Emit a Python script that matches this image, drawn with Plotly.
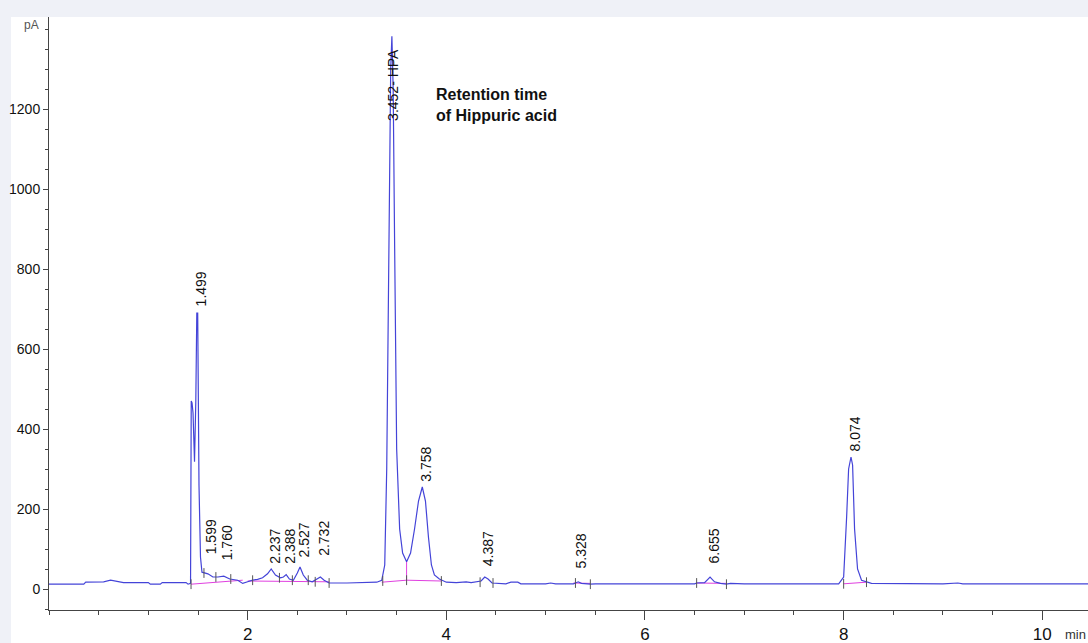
import plotly.graph_objects as go

# ---- data (time in min, signal in pA) ----
time_min = [0.00, 0.35, 0.37, 0.55, 0.62, 0.68, 0.75, 1.00, 1.02, 1.12, 1.14, 1.38, 1.40, 1.425,
            1.432, 1.44, 1.45, 1.465, 1.478, 1.488, 1.497, 1.51, 1.525, 1.54, 1.56, 1.60, 1.65,
            1.70, 1.76, 1.82, 1.90, 1.95, 2.00, 2.05, 2.10, 2.15, 2.20, 2.237, 2.28, 2.33, 2.36,
            2.388, 2.42, 2.46, 2.50, 2.527, 2.56, 2.60, 2.65, 2.70, 2.732, 2.77, 2.82, 3.00, 3.20,
            3.30, 3.35, 3.38, 3.40, 3.42, 3.44, 3.452, 3.465, 3.48, 3.50, 3.53, 3.56, 3.60, 3.64,
            3.68, 3.72, 3.758, 3.79, 3.82, 3.85, 3.88, 3.93, 4.00, 4.10, 4.20, 4.25, 4.35, 4.387,
            4.42, 4.46, 4.60, 4.65, 4.72, 4.75, 5.00, 5.05, 5.10, 5.28, 5.30, 5.328, 5.36, 5.45,
            5.50, 6.50, 6.52, 6.60, 6.655, 6.70, 6.76, 6.82, 6.86, 7.00, 7.95, 8.00, 8.03, 8.05,
            8.074, 8.09, 8.11, 8.14, 8.18, 8.23, 8.28, 9.00, 9.15, 9.20, 10.50]
signal_pa = [12, 12, 17, 18, 22, 20, 16, 16, 12, 12, 16, 16, 12, 14,
             470, 465, 440, 318, 470, 690, 690, 260, 80, 42, 40, 38, 30,
             30, 32, 25, 22, 14, 18, 22, 24, 28, 38, 50, 35, 28, 30,
             36, 25, 22, 40, 55, 35, 22, 18, 25, 30, 22, 15, 15, 16,
             17, 22, 60, 300, 900, 1300, 1382, 1250, 850, 350, 150, 90, 68, 90,
             150, 220, 255, 220, 130, 60, 35, 25, 17, 16, 18, 16, 20, 30,
             25, 15, 13, 17, 17, 13, 13, 15, 13, 13, 15, 18, 14, 12,
             13, 13, 15, 16, 30, 18, 14, 12, 14, 13, 13, 30, 180, 300,
             330, 310, 150, 50, 22, 18, 14, 13, 15, 13, 13]

# integration baselines (magenta), segments separated by None
base_t = [1.43, 1.95, None, 2.00, 2.82, None, 3.35, 3.60, 3.95, None, 3.60, 3.60, None,
          5.28, 5.45, None, 6.52, 6.82, None, 8.00, 8.23]
base_v = [12, 22, None, 20, 18, None, 17, 22, 20, None, 68, 22, None,
          15, 14, None, 15, 14, None, 13, 17]

# peak start/stop marks
mark_t = [1.43, 1.56, 1.68, 1.83, 2.05, 2.32, 2.45, 2.61, 2.68, 2.82, 3.36, 3.60, 3.95,
          4.34, 4.47, 5.30, 5.45, 6.52, 6.82, 8.00, 8.23]
mark_v = [12, 40, 30, 25, 22, 28, 22, 22, 18, 15, 20, 22, 20, 17, 15, 15, 12, 15, 12, 13, 17]

# peak labels
peak_labels = ["1.499", "1.599", "1.760", "2.237", "2.388", "2.527", "2.732",
               "3.758", "4.387", "5.328", "6.655", "8.074"]
peak_times = [1.499, 1.599, 1.760, 2.237, 2.388, 2.527, 2.732, 3.758, 4.387, 5.328, 6.655, 8.074]
peak_heights = [695, 75, 60, 50, 50, 65, 70, 255, 45, 38, 50, 330]
hpa_label = "3.452- HPA"
hpa_time = 3.452
hpa_label_base = 1165

x_ticks = [2, 4, 6, 8, 10]
y_ticks = [0, 200, 400, 600, 800, 1000, 1200]

FONT = "Liberation Sans, Arial, sans-serif"
AXC = "#444444"
PAGE_BG = "#eff1f7"

fig = go.Figure()
fig.add_trace(go.Scatter(x=base_t, y=base_v, mode="lines",
                         line=dict(color="#e040e0", width=1), hoverinfo="skip"))
fig.add_trace(go.Scatter(x=time_min, y=signal_pa, mode="lines",
                         line=dict(color="#4444d8", width=1.2)))
fig.add_trace(go.Scatter(x=mark_t, y=mark_v, mode="markers",
                         marker=dict(symbol="line-ns", size=7,
                                     line=dict(color="#555555", width=1))))

for lab, t, h in zip(peak_labels, peak_times, peak_heights):
    fig.add_annotation(x=t, y=h, text=lab, textangle=-90, showarrow=False,
                       xanchor="center", yanchor="bottom", xshift=3, yshift=3,
                       font=dict(family=FONT, size=14, color="#111111"))
fig.add_annotation(x=hpa_time, y=hpa_label_base, text=hpa_label, textangle=-90,
                   showarrow=False, xanchor="center", yanchor="bottom", xshift=1,
                   font=dict(family=FONT, size=14, color="#111111"))
fig.add_annotation(x=3.877, y=1210, xref="x", yref="y", text="<b>Retention time<br>of Hippuric acid</b>",
                   showarrow=False, xanchor="left", yanchor="middle", align="left",
                   font=dict(family=FONT, size=16, color="#111111"))
fig.add_annotation(x=-27 / 1039, y=1 - 8 / 593, xref="paper", yref="paper", text="pA",
                   showarrow=False, xanchor="left", yanchor="middle",
                   font=dict(family=FONT, size=12, color="#555555"))
fig.add_annotation(x=10.21, y=0, xref="x", yref="paper", text="min", showarrow=False,
                   xanchor="left", yanchor="middle", yshift=-24,
                   font=dict(family=FONT, size=13, color="#333333"))

# white canvas over grey page border
fig.add_shape(type="rect", xref="paper", yref="paper", layer="below",
              x0=-38 / 1039, x1=1.02, y0=-0.1, y1=1.0, fillcolor="white", line_width=0)

fig.update_layout(
    width=1088, height=643,
    margin=dict(l=49, r=0, t=17, b=33, autoexpand=False),
    paper_bgcolor=PAGE_BG, plot_bgcolor="rgba(0,0,0,0)",
    showlegend=False,
    font=dict(family=FONT),
)
fig.update_xaxes(range=[0, 10.46], tickmode="array", tickvals=x_ticks, automargin=False,
                 ticks="outside", ticklen=9, tickcolor=AXC, showline=True, linecolor=AXC,
                 linewidth=1, showgrid=False, zeroline=False,
                 tickfont=dict(family=FONT, size=17, color="#111111"),
                 minor=dict(tickmode="linear", tick0=0, dtick=0.5, ticks="outside",
                            ticklen=4, tickcolor=AXC, showgrid=False))
fig.update_yaxes(range=[-52.5, 1430], tickmode="array", tickvals=y_ticks, automargin=False,
                 ticks="outside", ticklen=5, tickcolor=AXC, showline=True, linecolor=AXC,
                 linewidth=1, showgrid=False, zeroline=False,
                 tickfont=dict(family=FONT, size=14, color="#111111"),
                 minor=dict(tickmode="linear", tick0=0, dtick=50, ticks="outside",
                            ticklen=3, tickcolor=AXC, showgrid=False))

fig.write_html(
    "out.html",
    config={"displayModeBar": False},
    post_script="document.body.style.margin='0';document.body.style.overflow='hidden';"
                "document.body.style.background='" + PAGE_BG + "';",
)
